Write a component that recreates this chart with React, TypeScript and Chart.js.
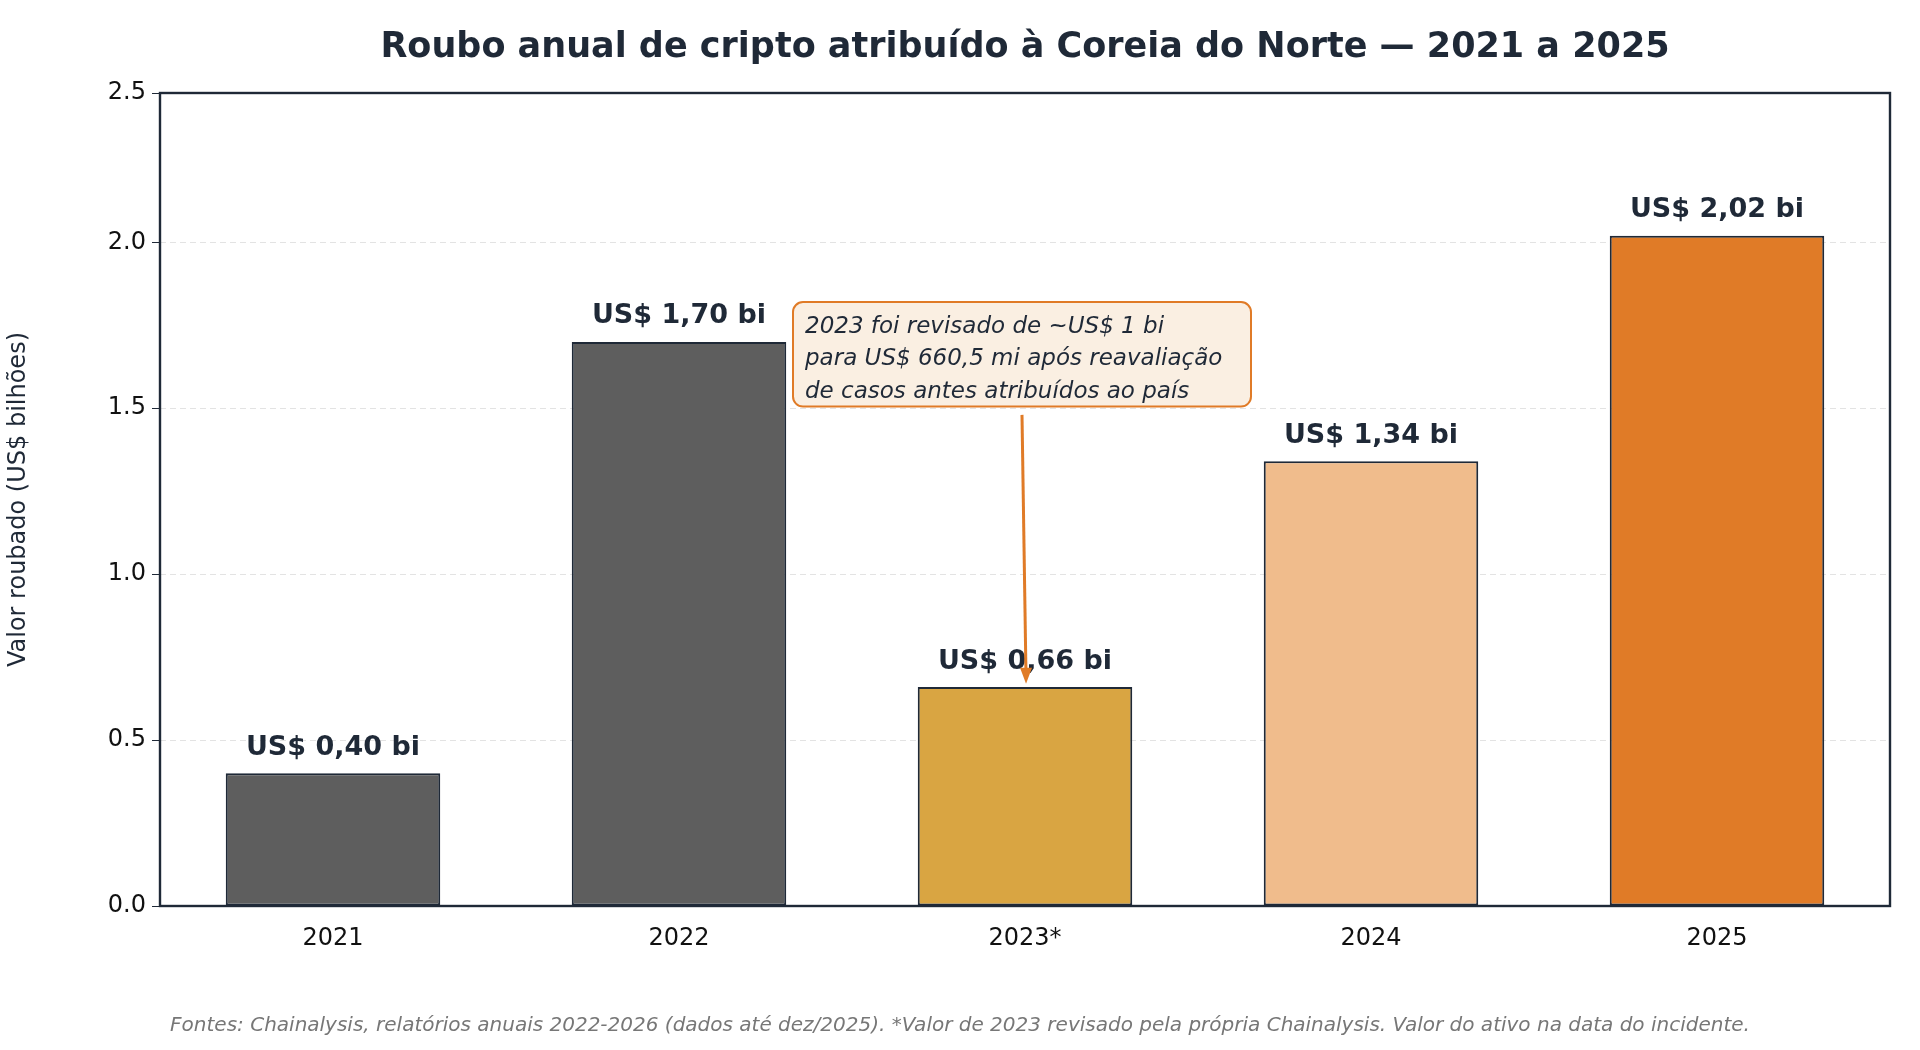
import React, { useEffect, useRef } from "react";
import { Chart, registerables } from "chart.js";
Chart.register(...registerables);

const categories = ["2021", "2022", "2023*", "2024", "2025"];
const values = [0.4, 1.7, 0.66, 1.34, 2.02];
const valueLabels = ["US$ 0,40 bi", "US$ 1,70 bi", "US$ 0,66 bi", "US$ 1,34 bi", "US$ 2,02 bi"];
const barColors = ["#5e5e5e", "#5e5e5e", "#d9a542", "#f0bc8c", "#e07b27"];
const title = "Roubo anual de cripto atribuído à Coreia do Norte — 2021 a 2025";
const footer = "Fontes: Chainalysis, relatórios anuais 2022-2026 (dados até dez/2025). *Valor de 2023 revisado pela própria Chainalysis. Valor do ativo na data do incidente.";
const noteLines = ["2023 foi revisado de ~US$ 1 bi", "para US$ 660,5 mi após reavaliação", "de casos antes atribuídos ao país"];

const F = "'DejaVu Sans', sans-serif";
const DARK = "#1f2937";

export default function App() {
  const ref = useRef<HTMLCanvasElement>(null);
  useEffect(() => {
    const deco = {
      id: "deco",
      afterDatasetsDraw(chart: any) {
        const { ctx, chartArea: a, scales } = chart;
        const xs = scales.x, ys = scales.y;
        ctx.save();
        ctx.strokeStyle = DARK; ctx.lineWidth = 2.4;
        ctx.strokeRect(a.left, a.top, a.right - a.left, a.bottom - a.top);
        ctx.fillStyle = DARK; ctx.textAlign = "center"; ctx.textBaseline = "bottom";
        ctx.font = `bold 27px ${F}`;
        values.forEach((v, i) => ctx.fillText(valueLabels[i], xs.getPixelForValue(i), ys.getPixelForValue(v) - 12));
        // title
        ctx.font = `bold 35px ${F}`; ctx.textBaseline = "middle";
        ctx.fillText(title, (a.left + a.right) / 2, 48);
        // footer
        ctx.font = `italic 20px ${F}`; ctx.fillStyle = "#777";
        ctx.fillText(footer, 960, 1026);
        // annotation
        const cx = xs.getPixelForValue(2) - 3;
        const bw = 458, top = ys.getPixelForValue(1.82), bot = ys.getPixelForValue(1.505);
        const bl = cx - bw / 2;
        ctx.beginPath();
        ctx.roundRect(bl, top, bw, bot - top, 10);
        ctx.fillStyle = "#faefe2"; ctx.fill();
        ctx.strokeStyle = "#e07b27"; ctx.lineWidth = 2; ctx.stroke();
        ctx.fillStyle = DARK; ctx.font = `italic 23px ${F}`; ctx.textAlign = "left"; ctx.textBaseline = "middle";
        const lh = (bot - top) / 3.2;
        noteLines.forEach((t, i) => ctx.fillText(t, bl + 12, top + lh * (0.75 + i)));
        const ay0 = ys.getPixelForValue(1.48), ay1 = ys.getPixelForValue(0.67), ax1 = xs.getPixelForValue(2) + 1;
        ctx.strokeStyle = "#e07b27"; ctx.lineWidth = 3;
        ctx.beginPath(); ctx.moveTo(cx, ay0); ctx.lineTo(ax1, ay1 - 8); ctx.stroke();
        ctx.fillStyle = "#e07b27";
        ctx.beginPath(); ctx.moveTo(ax1, ay1); ctx.lineTo(ax1 - 6, ay1 - 16); ctx.lineTo(ax1 + 6, ay1 - 16); ctx.closePath(); ctx.fill();
        ctx.restore();
      },
    };
    const chart = new Chart(ref.current!, {
      type: "bar",
      data: {
        labels: categories,
        datasets: [{ data: values, backgroundColor: barColors, borderColor: DARK, borderWidth: 2, borderSkipped: false as any, barPercentage: 0.62, categoryPercentage: 1 }],
      },
      options: {
        animation: false, responsive: false,
        layout: { padding: { top: 93, right: 30, left: 0, bottom: 0 } },
        plugins: { legend: { display: false }, tooltip: { enabled: false } },
        scales: {
          x: {
            grid: { display: false }, border: { display: false },
            ticks: { color: "#111", font: { family: F, size: 24 }, padding: 10 },
            afterFit: (s: any) => { s.height = 144; },
          },
          y: {
            min: 0, max: 2.45,
            grid: { color: "#e3e3e3", drawTicks: true, tickColor: DARK, tickLength: 8 } as any,
            border: { display: false, dash: [6, 4] },
            ticks: { stepSize: 0.5, color: "#111", font: { family: F, size: 24 }, padding: 6, callback: (v: any) => Number(v).toFixed(1) },
            title: { display: true, text: "Valor roubado (US$ bilhões)", color: DARK, font: { family: F, size: 24 } },
            afterFit: (s: any) => { s.width = 160; },
          },
        },
      },
      plugins: [deco],
    });
    return () => chart.destroy();
  }, []);
  return (
    <div style={{ position: "fixed", left: 0, top: 0, width: 1920, height: 1050, background: "#fff" }}>
      <canvas ref={ref} width={1920} height={1050} style={{ width: 1920, height: 1050 }} />
    </div>
  );
}
